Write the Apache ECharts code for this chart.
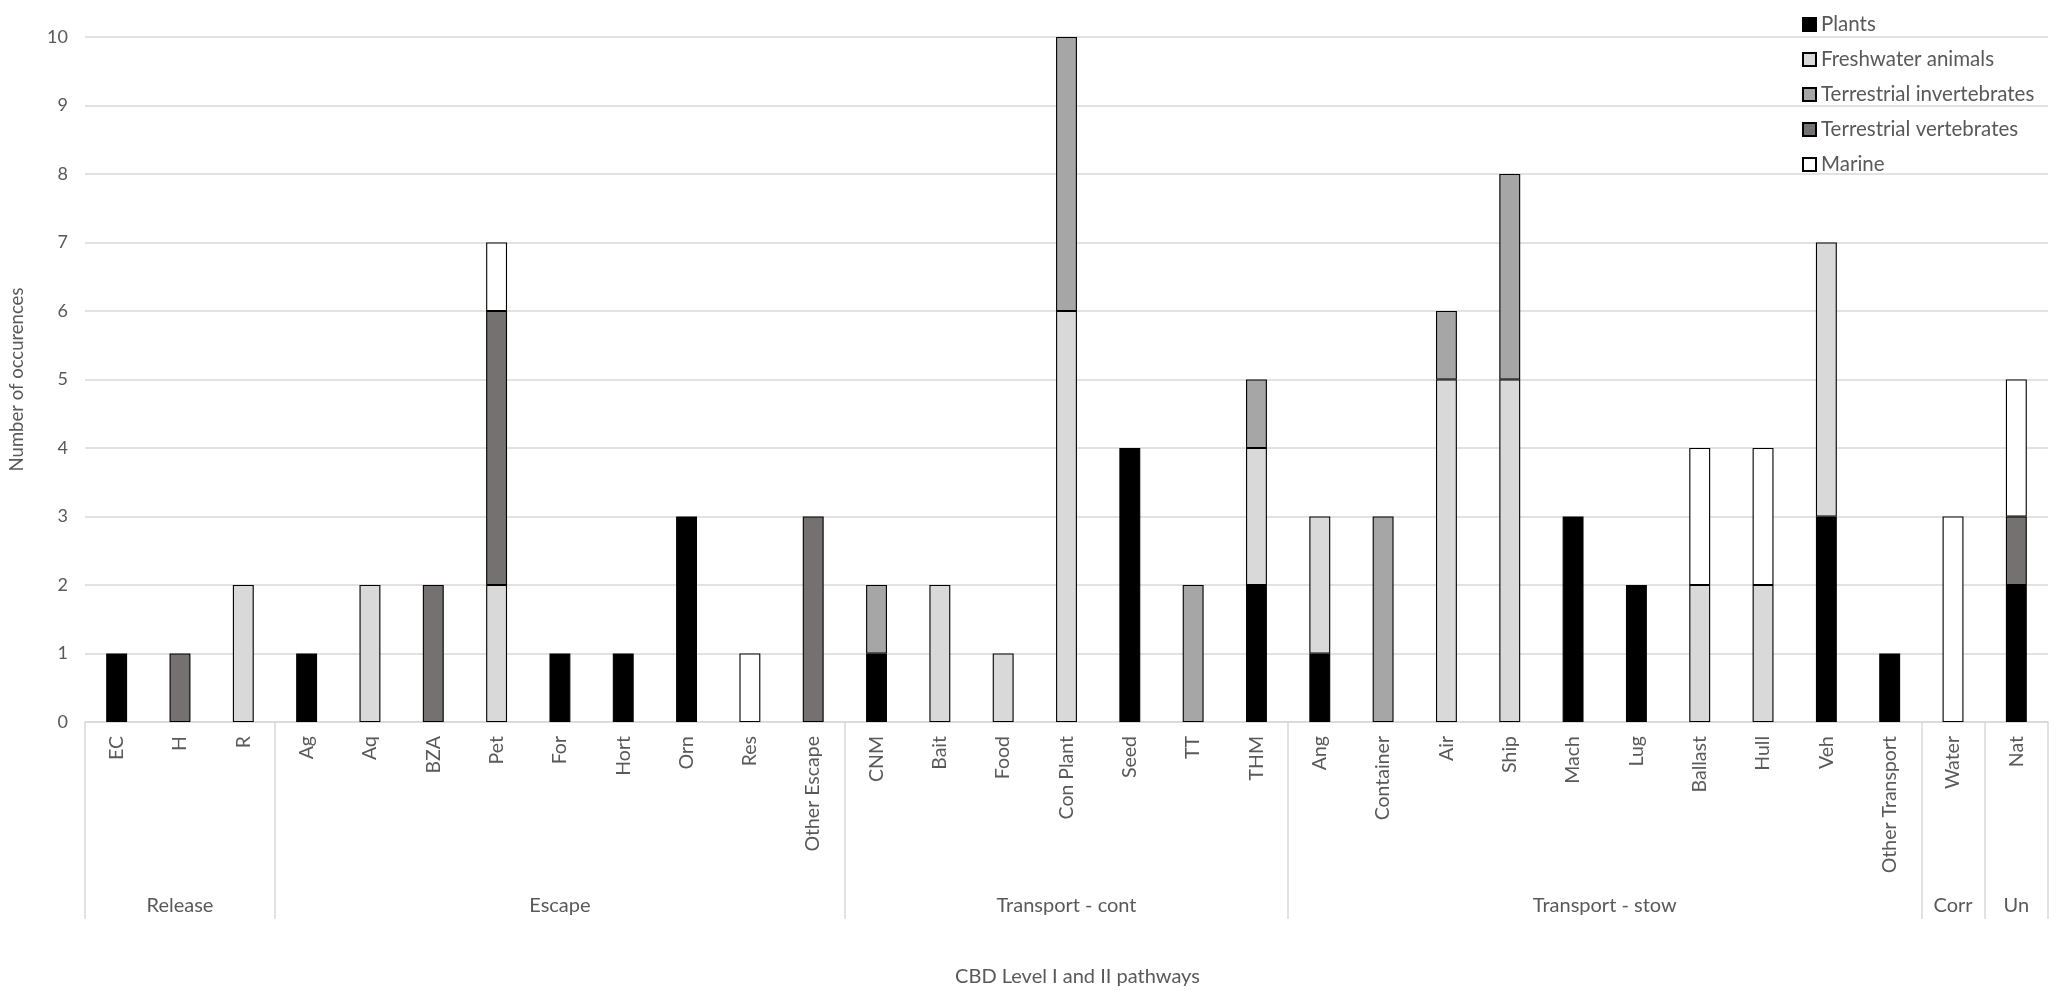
<!DOCTYPE html>
<html>
<head>
<meta charset="utf-8">
<script src="https://cdn.jsdelivr.net/npm/echarts@6/dist/echarts.min.js"></script>
<style>
    html, body { margin: 0; padding: 0; background: #fff; }
    #main { width: 2059px; height: 997px; }
</style>
</head>
<body>
<div id="main"></div>
<script>
// pathway categories (level II)
var categories = ['EC', 'H', 'R', 'Ag', 'Aq', 'BZA', 'Pet', 'For', 'Hort', 'Orn', 'Res', 'Other Escape',
    'CNM', 'Bait', 'Food', 'Con Plant', 'Seed', 'TT', 'THM',
    'Ang', 'Container', 'Air', 'Ship', 'Mach', 'Lug', 'Ballast', 'Hull', 'Veh', 'Other Transport',
    'Water', 'Nat'];

// level I groups
var groupNames = ['Release', 'Escape', 'Transport - cont', 'Transport - stow', 'Corr', 'Un'];
var groupSizes = [3, 9, 7, 10, 1, 1];

// occurrences per taxon group
var plants       = [1, 0, 0, 1, 0, 0, 0, 1, 1, 3, 0, 0, 1, 0, 0, 0, 4, 0, 2, 1, 0, 0, 0, 3, 2, 0, 0, 3, 1, 0, 2];
var freshwater   = [0, 0, 2, 0, 2, 0, 2, 0, 0, 0, 0, 0, 0, 2, 1, 6, 0, 0, 2, 2, 0, 5, 5, 0, 0, 2, 2, 4, 0, 0, 0];
var terrInvert   = [0, 0, 0, 0, 0, 0, 0, 0, 0, 0, 0, 0, 1, 0, 0, 4, 0, 2, 1, 0, 3, 1, 3, 0, 0, 0, 0, 0, 0, 0, 0];
var terrVert     = [0, 1, 0, 0, 0, 2, 4, 0, 0, 0, 0, 3, 0, 0, 0, 0, 0, 0, 0, 0, 0, 0, 0, 0, 0, 0, 0, 0, 0, 0, 1];
var marine       = [0, 0, 0, 0, 0, 0, 1, 0, 0, 0, 1, 0, 0, 0, 0, 0, 0, 0, 0, 0, 0, 0, 0, 0, 0, 2, 2, 0, 0, 3, 2];

var yTicks = [0, 1, 2, 3, 4, 5, 6, 7, 8, 9, 10];

// half-step axis for the group row: boundaries on even points, names on group centres
var groupAxisData = [];
var boundaries = {};
for (var i = 0; i <= categories.length * 2; i++) groupAxisData.push('');
var start = 0;
for (var g = 0; g < groupNames.length; g++) {
    boundaries[start * 2] = true;
    groupAxisData[start * 2 + groupSizes[g]] = groupNames[g];
    start += groupSizes[g];
}
boundaries[start * 2] = true;

var font = 'Lato, "Open Sans", sans-serif';
var textColor = '#595959';
var lineColor = '#d9d9d9';

function barSeries(name, data, color) {
    return {
        name: name,
        type: 'bar',
        stack: 'total',
        barWidth: '33%',
        data: data.map(function (v) { return v === 0 ? '-' : v; }),
        itemStyle: {color: color, borderColor: '#000', borderWidth: 1.1},
        emphasis: {disabled: true}
    };
}

var myChart = echarts.init(document.getElementById('main'));
var option = {
    animation: false,
    textStyle: {fontFamily: font},
    grid: {left: 79, right: 11, top: 37, bottom: 275},
    legend: {
        orient: 'vertical',
        left: 1797,
        top: 9,
        icon: 'rect',
        itemWidth: 13,
        itemHeight: 13,
        itemGap: 14,
        textStyle: {fontSize: 20.5, color: textColor, fontFamily: font},
        data: ['Plants', 'Freshwater animals', 'Terrestrial invertebrates', 'Terrestrial vertebrates', 'Marine']
    },
    xAxis: [
        {
            type: 'category',
            data: categories,
            position: 'bottom',
            axisLine: {lineStyle: {color: lineColor, width: 1.5}},
            axisTick: {show: false},
            axisLabel: {
                interval: 0,
                rotate: 90,
                margin: 14,
                fontSize: 19.5,
                color: textColor,
                fontFamily: font
            }
        },
        {
            type: 'category',
            data: groupAxisData,
            position: 'bottom',
            boundaryGap: false,
            axisLine: {show: false},
            axisTick: {
                show: true,
                interval: function (index) { return !!boundaries[index]; },
                length: 197,
                lineStyle: {color: lineColor, width: 1.5}
            },
            axisLabel: {
                interval: 0,
                margin: 174,
                fontSize: 20,
                color: textColor,
                fontFamily: font
            },
            name: 'CBD Level I and II pathways',
            nameLocation: 'middle',
            nameGap: 245,
            nameTextStyle: {fontSize: 20, color: textColor, fontFamily: font, padding: [0, 0, 0, 22]}
        }
    ],
    yAxis: {
        type: 'value',
        min: yTicks[0],
        max: yTicks[yTicks.length - 1],
        interval: 1,
        axisLine: {show: false},
        axisTick: {show: false},
        splitLine: {lineStyle: {color: lineColor, width: 1.5}},
        axisLabel: {fontSize: 18, color: textColor, margin: 17, fontFamily: font},
        name: 'Number of occurences',
        nameLocation: 'middle',
        nameGap: 58,
        nameTextStyle: {fontSize: 18.5, color: textColor, fontFamily: font}
    },
    series: [
        barSeries('Plants', plants, '#000000'),
        barSeries('Freshwater animals', freshwater, '#d9d9d9'),
        barSeries('Terrestrial invertebrates', terrInvert, '#a6a6a6'),
        barSeries('Terrestrial vertebrates', terrVert, '#767171'),
        barSeries('Marine', marine, '#ffffff')
    ]
};
myChart.setOption(option);
</script>
</body>
</html>
